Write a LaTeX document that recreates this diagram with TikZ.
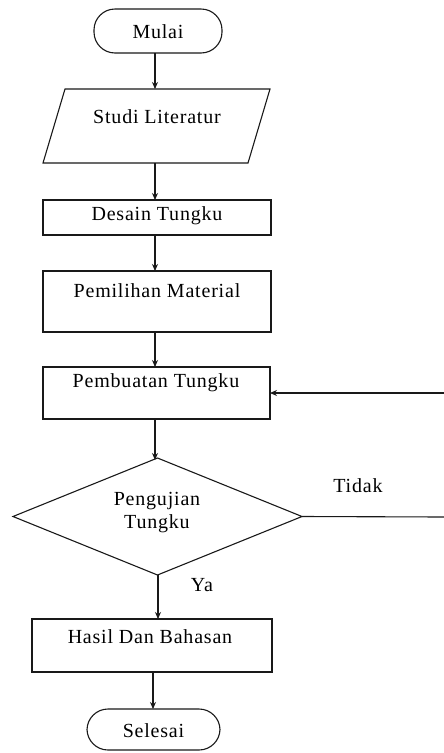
\documentclass[tikz,border=0pt]{standalone}
\usepackage{fontspec}
\setmainfont{Liberation Serif}[LetterSpace=4]
\usetikzlibrary{arrows.meta,shapes.geometric}
\begin{document}
\begin{tikzpicture}[x=1pt,y=1pt,
  every node/.style={inner sep=0pt, outer sep=0pt},
  line/.style={line width=1.1pt, draw=black!90},
  box/.style={line, draw, rectangle},
  term/.style={line, draw, rectangle, rounded corners=21pt},
  txt/.style={font=\fontsize{20}{23}\selectfont, align=center, text=black},
  arr/.style={line, -{Stealth[length=7pt,width=6pt]}}]
\useasboundingbox (0,0) rectangle (444,-753);

% terminals and boxes
\node[term, minimum width=128pt, minimum height=44pt] (mulai) at (158,-31) {};
\node[minimum width=227pt, minimum height=74pt] (studi) at (156.5,-126) {};
\draw[line] ([xshift=22pt]studi.north west) -- (studi.north east)
  -- ([xshift=-22pt]studi.south east) -- (studi.south west) -- cycle;
\node[box, minimum width=228pt, minimum height=35pt] (desain) at (157,-217.5) {};
\node[box, minimum width=228pt, minimum height=61pt] (pemilihan) at (157,-301.5) {};
\node[box, minimum width=227pt, minimum height=52pt] (pembuatan) at (156.5,-393) {};
\node[line, draw, diamond, aspect=2.47, minimum width=289pt, minimum height=117pt] (uji) at (157.5,-516.5) {};
\node[box, minimum width=240pt, minimum height=53pt] (hasil) at (152,-645.5) {};
\node[term, minimum width=133pt, minimum height=41pt] (selesai) at (153.5,-729.5) {};

% texts
\node[txt] (tmulai) at (158,-32) {Mulai};
\node[txt] (tstudi) at (157,-117) {Studi Literatur};
\node[txt] (tdesain) at (157,-216) {Desain Tungku};
\node[txt] (tpemilihan) at (157,-291) {Pemilihan Material};
\node[txt] (tpembuatan) at (156,-383) {Pembuatan Tungku};
\node[txt] (tuji) at (157,-513) {Pengujian\\Tungku};
\node[txt] (thasil) at (150,-637) {Hasil Dan Bahasan};
\node[txt] (tselesai) at (153.5,-731) {Selesai};
\node[txt] (tidak) at (358,-486) {Tidak};
\node[txt] (ya) at (202,-585) {Ya};

% arrow columns
\coordinate (ax) at (155,0);
\coordinate (bx) at (158,0);
\coordinate (cx) at (153,0);
\coordinate (re) at (444,-517);
\coordinate (rt) at (444,-393);

\draw[arr] (mulai.south -| ax) -- (studi.north -| ax);
\draw[arr] (studi.south -| ax) -- (desain.north -| ax);
\draw[arr] (desain.south -| ax) -- (pemilihan.north -| ax);
\draw[arr] (pemilihan.south -| ax) -- (pembuatan.north -| ax);
\draw[arr] (pembuatan.south -| ax) -- ([yshift=-2pt]uji.north -| ax);
\draw[arr] (uji.south -| bx) -- (hasil.north -| bx);
\draw[arr] (hasil.south -| cx) -- (selesai.north -| cx);
\draw[line] (uji.east) -- (re);
\draw[arr] (rt) -- (pembuatan.east |- rt);
\end{tikzpicture}
\end{document}
